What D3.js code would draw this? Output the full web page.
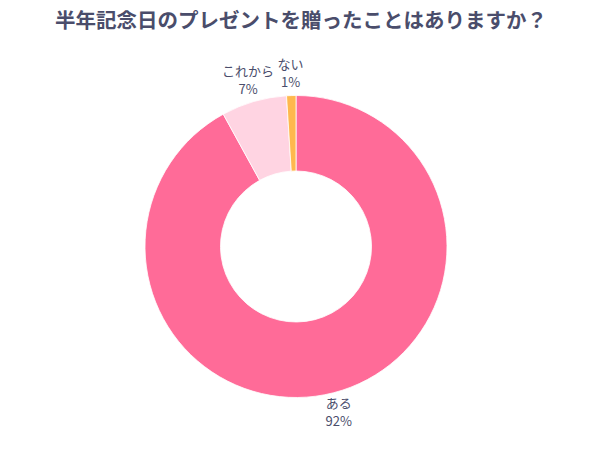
<!DOCTYPE html>
<html>
<head>
<meta charset="utf-8">
<script src="https://cdn.jsdelivr.net/npm/d3@7"></script>
<style>
  body { margin: 0; background: #fff; }
  text { font-family: "Noto Sans CJK JP", "Noto Sans", sans-serif; }
</style>
</head>
<body>
<div class="chart"></div>
<script>
// Data
var categories = ['ある', 'これから', 'ない'];
var values = [92, 7, 1];
var colors = ['#FF6B98', '#FFD4E2', '#FFB84D'];

var svgWidth = 602;
var svgHeight = 451;
var cx = 296;
var cy = 246.5;
var outerR = 151;
var innerR = 75.5;
var labelR = 172;
var textColor = '#4A4D6B';

var svg = d3.select('.chart')
  .append('svg')
  .attr('width', svgWidth)
  .attr('height', svgHeight);

// title
svg.append('text')
  .attr('x', svgWidth / 2)
  .attr('y', 22)
  .attr('text-anchor', 'middle')
  .attr('dominant-baseline', 'middle')
  .attr('font-size', 20.5)
  .attr('font-weight', 'bold')
  .attr('fill', textColor)
  .text('半年記念日のプレゼントを贈ったことはありますか？');

var pie = d3.pie().sort(null).value(d => d);
var arcs = pie(values);

var arc = d3.arc().innerRadius(innerR).outerRadius(outerR);

var chartGroup = svg.append('g')
  .attr('transform', `translate(${cx}, ${cy})`);

chartGroup.selectAll('path')
  .data(arcs)
  .enter()
    .append('path')
    .attr('d', arc)
    .attr('fill', (d, i) => colors[i])
    .attr('stroke', '#fff')
    .attr('stroke-width', 0.8);

// labels outside the ring
var labels = chartGroup.selectAll('g.label')
  .data(arcs)
  .enter()
    .append('g')
    .attr('class', 'label')
    .attr('transform', function(d) {
      var a = (d.startAngle + d.endAngle) / 2;
      return `translate(${Math.sin(a) * labelR}, ${-Math.cos(a) * labelR})`;
    });

labels.append('text')
  .attr('y', -9)
  .attr('text-anchor', 'middle')
  .attr('dominant-baseline', 'middle')
  .attr('font-size', 13)
  .attr('fill', textColor)
  .text((d, i) => categories[i]);

labels.append('text')
  .attr('y', 9)
  .attr('text-anchor', 'middle')
  .attr('dominant-baseline', 'middle')
  .attr('font-size', 13)
  .attr('fill', textColor)
  .text(d => d.data + '%');
</script>
</body>
</html>
